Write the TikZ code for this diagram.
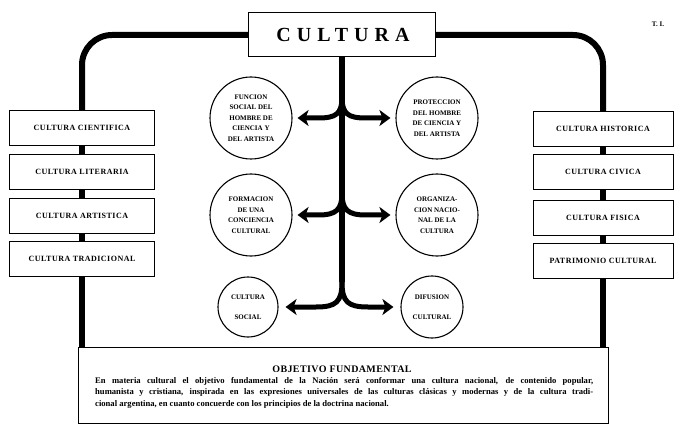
\documentclass[tikz,border=0pt]{standalone}
\usepackage{fontspec}
\setmainfont{Liberation Serif}
\usetikzlibrary{arrows.meta}
\begin{document}
\begin{tikzpicture}[x=1pt,y=-1pt,
 lbox/.style={draw, line width=0.9pt, minimum width=145pt, minimum height=35pt, inner sep=0pt,
   font=\fontsize{8}{9}\selectfont\bfseries\addfontfeature{LetterSpace=6}},
 rbox/.style={lbox, minimum width=140pt},
 circ/.style={draw, circle, line width=1.1pt, minimum size=82pt, inner sep=0pt, align=center,
   font=\fontsize{7}{10.5}\selectfont\bfseries},
 scirc/.style={circ, minimum size=60pt, font=\fontsize{7}{20}\selectfont\bfseries},
 frame/.style={line width=6pt, rounded corners=30pt},
 link/.style={line width=6pt},
 barr/.style={line width=5pt, -{Stealth[length=11pt,width=16pt,inset=3pt]}},
 txt/.style={anchor=base west, inner sep=0pt, font=\fontsize{8.6}{10}\selectfont\bfseries},
]
\useasboundingbox (0,0) rectangle (678,433);

% title
\node[draw, line width=1pt, minimum width=187pt, minimum height=44pt, inner sep=0pt,
  font=\fontsize{20}{24}\selectfont\bfseries] (cult) at (342,35) {\addfontfeature{LetterSpace=30}CULTURA\hspace*{-2pt}};
\node[font=\fontsize{7}{8}\selectfont\bfseries] (tom) at (658,24) {T. I.};

% left column
\node[lbox] (l1) at (82,128) {CULTURA CIENTIFICA};
\node[lbox] (l2) at (82,172) {CULTURA LITERARIA};
\node[lbox] (l3) at (82,215.5) {CULTURA ARTISTICA};
\node[lbox] (l4) at (82,259) {CULTURA TRADICIONAL};

% right column
\node[rbox] (r1) at (603,129) {CULTURA HISTORICA};
\node[rbox] (r2) at (603,172) {CULTURA CIVICA};
\node[rbox] (r3) at (603,217.5) {CULTURA FISICA};
\node[rbox] (r4) at (603,260.5) {PATRIMONIO CULTURAL};

% objective box
\node[draw, line width=1pt, minimum width=530pt, minimum height=76pt, inner sep=0pt] (obj) at (343,385) {};
\node[font=\fontsize{10}{12}\selectfont\bfseries\addfontfeature{LetterSpace=4}] (ot) at (342,369) {OBJETIVO FUNDAMENTAL};
\node[txt] (t1) at (95,383) {\makebox[498pt][s]{En materia cultural el objetivo fundamental de la Nación será conformar una cultura nacional, de contenido popular,}};
\node[txt] (t2) at (95,394.5) {\makebox[498pt][s]{humanista y cristiana, inspirada en las expresiones universales de las culturas clásicas y modernas y de la cultura tradi-}};
\node[txt] (t3) at (95,406) {cional argentina, en cuanto concuerde con los principios de la doctrina nacional.};

% circles
\node[circ] (c1l) at (251,118) {FUNCION\\SOCIAL DEL\\HOMBRE DE\\CIENCIA Y\\DEL ARTISTA};
\node[circ] (c1r) at (437,118) {PROTECCION\\DEL HOMBRE\\DE CIENCIA Y\\DEL ARTISTA};
\node[circ] (c2l) at (251,215) {FORMACION\\DE UNA\\CONCIENCIA\\CULTURAL};
\node[circ] (c2r) at (437,215) {ORGANIZA-\\CION NACIO-\\NAL DE LA\\CULTURA};
\node[scirc] (c3l) at (248,307) {CULTURA\\SOCIAL};
\node[scirc, minimum size=62pt] (c3r) at (432,307) {DIFUSION\\CULTURAL};

% frame
\draw[frame] (cult.west) -| (l1.north);
\draw[frame] (cult.east) -| (r1.north);
\draw[link] (l1.south) -- (l2.north);
\draw[link] (l2.south) -- (l3.north);
\draw[link] (l3.south) -- (l4.north);
\draw[link] (l4.south) -- (l4.south |- obj.north);
\draw[link] (r1.south) -- (r2.north);
\draw[link] (r2.south) -- (r3.north);
\draw[link] (r3.south) -- (r4.north);
\draw[link] (r4.south) -- (r4.south |- obj.north);

% stem and branches
\coordinate (b1) at (342,97);
\coordinate (b2) at (342,193);
\coordinate (split) at (342,282);
\draw[link] (cult.south) -- (split);
\draw[barr, shorten >=5pt] (b1) .. controls (342,114) and (336,118) .. (318,118) -- (c1l);
\draw[barr, shorten >=5pt] (b1) .. controls (342,114) and (348,118) .. (366,118) -- (c1r);
\draw[barr, shorten >=5pt] (b2) .. controls (342,210) and (336,215) .. (318,215) -- (c2l);
\draw[barr, shorten >=5pt] (b2) .. controls (342,210) and (348,215) .. (366,215) -- (c2r);
\draw[barr, shorten >=7pt] (split) .. controls (342,302) and (336,307) .. (316,307) -- (c3l);
\draw[barr, shorten >=7pt] (split) .. controls (342,302) and (348,307) .. (368,307) -- (c3r);
\end{tikzpicture}
\end{document}
